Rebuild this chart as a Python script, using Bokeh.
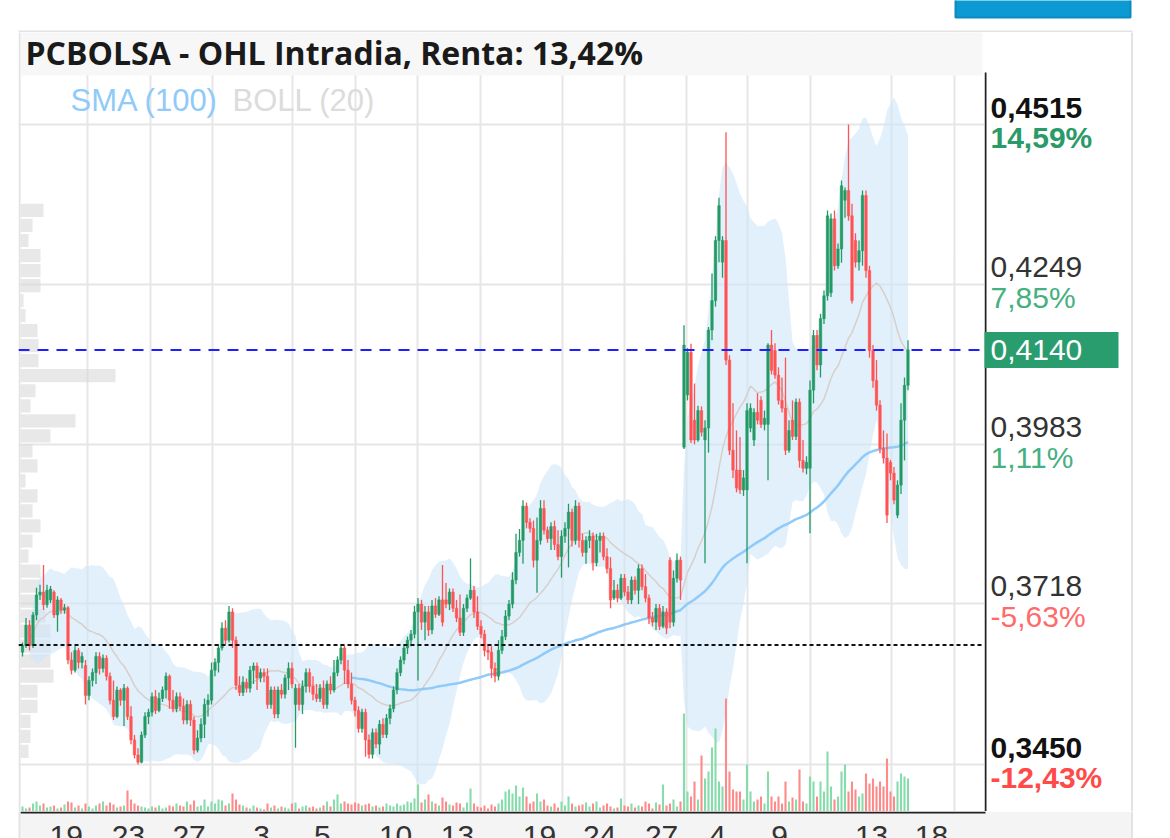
import numpy as np
import pandas as pd
from bokeh.plotting import figure
from bokeh.models import Range1d, FixedTicker, Span, ColumnDataSource
from bokeh.layouts import column, row
from bokeh.embed import file_html
from bokeh.resources import INLINE
from bokeh.core.properties import value

# ---------------- data (prices in 1/10000 EUR) ----------------
opens = [3637, 3648, 3682, 3648, 3699, 3732, 3737, 3716, 3724, 3737, 3699, 3724, 3707, 3711, 3624, 3607, 3640, 3620, 3615,
         3565, 3590, 3603, 3630, 3610, 3627, 3597, 3557, 3530, 3574, 3557, 3577, 3530, 3491, 3466, 3454, 3499, 3530,
         3537, 3563, 3540, 3560, 3574, 3597, 3557, 3543, 3563, 3547, 3524, 3550, 3524, 3474, 3494, 3517, 3550, 3557,
         3607, 3620, 3644, 3677, 3657, 3704, 3657, 3582, 3570, 3587, 3577, 3607, 3614, 3594, 3603, 3597, 3550, 3574, 3534, 3574, 3567, 3594, 3610,
         3550, 3577, 3550, 3580, 3603, 3580, 3567, 3560, 3577, 3550, 3584, 3574, 3603, 3624, 3644, 3607, 3584, 3557,
         3540, 3510, 3537, 3491, 3467, 3503, 3484, 3517, 3500, 3527, 3543, 3574, 3603, 3624, 3644, 3657, 3667, 3704,
         3717, 3687, 3704, 3674, 3714, 3700, 3724, 3724, 3717, 3737, 3710, 3694, 3670, 3710, 3727, 3740, 3704, 3680,
         3667, 3640, 3637, 3610, 3597, 3640, 3663, 3697, 3717, 3757, 3803, 3823, 3880, 3853, 3843, 3790, 3823, 3876, 3840, 3826, 3846, 3816, 3796,
         3830, 3843, 3870, 3823, 3880, 3823, 3803, 3823, 3830, 3786, 3823, 3830, 3796, 3776, 3727, 3740, 3727, 3760,
         3737, 3724, 3757, 3740, 3776, 3746, 3727, 3694, 3687, 3710, 3680, 3704, 3790, 3687, 3760, 3790,
         3978, 4065, 4136, 4023, 3990, 4039, 3990, 4010, 4173, 4222, 4322, 4286, 4322, 4123, 3973, 3940, 3940, 3907, 3907, 4010,
         3990, 4036, 4056, 4016, 4016, 4148, 4139, 4098, 4056, 4043, 3973, 4023, 3996, 4053, 3956, 3943, 3943, 4073, 4164, 4115,
         4192, 4230, 4235, 4358, 4280, 4308, 4389, 4405, 4363, 4322, 4286, 4305, 4397, 4272, 4139, 4089, 4048, 3976, 3960, 3953,
         3935, 3865, 3915, 4023, 4081]
highs = [3653, 3694, 3690, 3704, 3744, 3749, 3782, 3749, 3747, 3740, 3730, 3727, 3717, 3714, 3637, 3647, 3644, 3637, 3624,
         3597, 3610, 3637, 3637, 3633, 3632, 3603, 3590, 3580, 3577, 3584, 3580, 3547, 3499, 3477, 3505, 3537, 3543,
         3570, 3574, 3570, 3580, 3603, 3600, 3574, 3570, 3570, 3560, 3557, 3557, 3530, 3507, 3527, 3560, 3567, 3620,
         3627, 3650, 3687, 3690, 3714, 3710, 3663, 3597, 3597, 3593, 3614, 3620, 3620, 3610, 3610, 3610, 3580, 3580, 3580, 3584, 3600, 3620, 3620,
         3584, 3584, 3590, 3610, 3610, 3597, 3584, 3584, 3590, 3590, 3597, 3624, 3630, 3650, 3648, 3624, 3603, 3563,
         3547, 3543, 3543, 3500, 3510, 3510, 3524, 3527, 3534, 3550, 3580, 3610, 3630, 3650, 3663, 3674, 3714, 3727,
         3724, 3714, 3714, 3724, 3727, 3730, 3782, 3752, 3743, 3743, 3724, 3733, 3717, 3733, 3793, 3747, 3730, 3690,
         3674, 3650, 3647, 3620, 3657, 3674, 3707, 3724, 3770, 3834, 3842, 3890, 3886, 3860, 3856, 3861, 3890, 3890, 3846, 3853, 3856, 3840, 3840,
         3853, 3884, 3876, 3890, 3886, 3834, 3830, 3840, 3836, 3834, 3836, 3836, 3810, 3795, 3757, 3750, 3767, 3767,
         3747, 3763, 3763, 3783, 3783, 3767, 3733, 3704, 3717, 3717, 3714, 3710, 3795, 3773, 3801, 3796,
         4181, 4143, 4150, 4084, 4047, 4046, 4023, 4178, 4267, 4329, 4393, 4329, 4502, 4131, 4051, 4006, 3995, 3940, 4051, 4051,
         4043, 4068, 4063, 4039, 4151, 4173, 4151, 4111, 4094, 4127, 4023, 4056, 4059, 4059, 3990, 3963, 4089, 4173, 4173, 4200,
         4239, 4372, 4367, 4372, 4317, 4422, 4410, 4515, 4383, 4334, 4322, 4405, 4405, 4280, 4148, 4123, 4056, 4006, 4001, 3957,
         3945, 3923, 4051, 4094, 4156]
lows = [3630, 3644, 3640, 3644, 3690, 3724, 3707, 3711, 3719, 3694, 3671, 3701, 3701, 3617, 3600, 3603, 3610, 3610, 3550,
        3557, 3580, 3584, 3600, 3603, 3590, 3550, 3524, 3527, 3548, 3514, 3524, 3484, 3460, 3450, 3452, 3494, 3517,
        3530, 3534, 3537, 3554, 3560, 3543, 3537, 3537, 3540, 3517, 3517, 3514, 3467, 3470, 3487, 3494, 3530, 3550,
        3597, 3603, 3640, 3650, 3653, 3644, 3574, 3564, 3564, 3570, 3570, 3584, 3574, 3587, 3587, 3543, 3543, 3527, 3527, 3560, 3560, 3574, 3577,
        3478, 3540, 3534, 3570, 3570, 3557, 3554, 3554, 3543, 3543, 3567, 3570, 3597, 3617, 3584, 3577, 3550, 3530,
        3503, 3503, 3463, 3460, 3460, 3477, 3467, 3494, 3494, 3517, 3537, 3567, 3597, 3617, 3634, 3647, 3660, 3590,
        3674, 3657, 3664, 3667, 3694, 3697, 3680, 3710, 3707, 3704, 3687, 3664, 3664, 3704, 3724, 3694, 3674, 3660,
        3630, 3624, 3594, 3587, 3590, 3634, 3657, 3690, 3710, 3750, 3796, 3784, 3843, 3836, 3778, 3736, 3816, 3833, 3819, 3807, 3807, 3790, 3761,
        3819, 3778, 3813, 3816, 3811, 3796, 3784, 3810, 3773, 3780, 3803, 3790, 3768, 3710, 3724, 3720, 3724, 3730,
        3717, 3717, 3733, 3717, 3740, 3720, 3684, 3680, 3674, 3674, 3677, 3667, 3677, 3680, 3753, 3724,
        3975, 4056, 3985, 3983, 3987, 3996, 3785, 3969, 4156, 4212, 4286, 4260, 4115, 3965, 3927, 3903, 3900, 3897, 3785, 4003,
        3980, 4016, 4010, 4006, 3923, 4099, 4092, 4049, 4036, 3965, 3969, 3990, 3990, 3944, 3936, 3933, 3835, 4051, 4106, 4094,
        4183, 4222, 4228, 4272, 4275, 4285, 4360, 4355, 4217, 4277, 4272, 4280, 4260, 4127, 4077, 4039, 3968, 3951, 3852, 3923,
        3883, 3860, 3900, 3956, 4073]
closes = [3648, 3682, 3648, 3699, 3732, 3737, 3716, 3740, 3742, 3699, 3724, 3707, 3711, 3624, 3607, 3640, 3620, 3630, 3565,
          3590, 3603, 3630, 3610, 3627, 3597, 3557, 3530, 3574, 3557, 3577, 3530, 3491, 3466, 3454, 3499, 3530, 3537,
          3563, 3540, 3560, 3574, 3597, 3557, 3543, 3563, 3547, 3524, 3550, 3524, 3474, 3494, 3517, 3550, 3557, 3607,
          3620, 3644, 3677, 3657, 3704, 3657, 3582, 3570, 3587, 3577, 3607, 3614, 3594, 3603, 3597, 3550, 3574, 3534, 3574, 3567, 3594, 3610, 3584,
          3577, 3550, 3580, 3603, 3580, 3567, 3560, 3577, 3550, 3584, 3574, 3603, 3624, 3644, 3607, 3584, 3557, 3540,
          3510, 3537, 3491, 3467, 3503, 3484, 3517, 3500, 3527, 3543, 3574, 3603, 3624, 3644, 3657, 3667, 3704, 3717,
          3687, 3704, 3674, 3714, 3700, 3724, 3687, 3717, 3737, 3710, 3694, 3670, 3710, 3727, 3740, 3704, 3680, 3667,
          3640, 3637, 3610, 3597, 3640, 3663, 3697, 3717, 3757, 3803, 3823, 3880, 3853, 3843, 3790, 3823, 3876, 3840, 3826, 3846, 3816, 3796, 3830,
          3843, 3870, 3823, 3880, 3823, 3803, 3823, 3830, 3786, 3823, 3830, 3796, 3776, 3724, 3740, 3727, 3760, 3737,
          3724, 3757, 3740, 3776, 3746, 3727, 3694, 3687, 3710, 3680, 3704, 3677, 3687, 3760, 3790, 3757,
          4148, 4136, 3990, 3990, 4039, 4003, 4010, 4173, 4222, 4322, 4380, 4322, 4123, 3973, 3940, 3910, 3907, 3927, 4039, 4043,
          4036, 4023, 4016, 4026, 4148, 4106, 4098, 4056, 4043, 3973, 4006, 3996, 4053, 3956, 3943, 3953, 4073, 4164, 4115, 4192,
          4230, 4363, 4358, 4280, 4308, 4413, 4405, 4363, 4222, 4286, 4305, 4397, 4272, 4139, 4089, 4048, 3976, 3960, 3865, 3935,
          3890, 3915, 4023, 4081, 4140]
# volume per bar, thousands of shares
volumes = [50, 30, 40, 80, 100, 60, 80, 40, 50, 60, 30, 40, 70, 100, 90, 40, 60, 30, 80, 50,
           30, 60, 80, 100, 60, 90, 70, 40, 50, 60, 210, 120, 80, 60, 50, 40, 30, 50, 40, 60,
           30, 40, 60, 50, 80, 60, 50, 100, 70, 110, 50, 60, 120, 50, 100, 80, 120, 110, 60, 80,
           180, 120, 70, 60, 40, 30, 60, 40, 30, 20, 80, 40, 60, 30, 50, 40, 30, 80, 90, 30,
           50, 60, 40, 50, 30, 40, 60, 100, 50, 120, 170, 80, 100, 80, 70, 90, 80, 60, 70, 80,
           50, 60, 40, 50, 80, 60, 50, 80, 60, 70, 100, 90, 130, 270, 90, 120, 170, 100, 80, 60,
           140, 100, 70, 60, 90, 80, 40, 90, 230, 80, 50, 40, 60, 30, 70, 50, 80, 120, 200, 220,
           180, 260, 150, 240, 150, 80, 100, 180, 100, 120, 60, 50, 80, 40, 100, 60, 150, 80, 50, 60,
           70, 90, 50, 80, 100, 40, 60, 80, 50, 30, 40, 130, 60, 50, 80, 40, 60, 50, 100, 80,
           30, 90, 70, 270, 60, 80, 120, 50, 100, 980, 200, 150, 300, 120, 560, 330, 400, 640, 830, 300,
           250, 1130, 400, 220, 200, 200, 120, 470, 200, 100, 120, 150, 80, 400, 150, 100, 150, 80, 300, 100,
           140, 120, 420, 100, 80, 350, 300, 150, 300, 200, 600, 250, 120, 150, 400, 470, 200, 300, 220, 150,
           180, 380, 280, 330, 250, 300, 250, 530, 200, 150, 300, 380, 350, 330]

# volume-by-price profile (left side)
profile_levels = [0.4372, 0.4347, 0.4322, 0.4297, 0.4272, 0.4247, 0.4222, 0.4197, 0.4172, 0.4147,
                  0.4122, 0.4097, 0.4072, 0.4047, 0.4022, 0.3997, 0.3972, 0.3947, 0.3922, 0.3897,
                  0.3872, 0.3847, 0.3822, 0.3797, 0.3772, 0.3747, 0.3722, 0.3697, 0.3672, 0.3647,
                  0.3622, 0.3597, 0.3572, 0.3547, 0.3522, 0.3497, 0.3472]
profile_volume = [2300, 1200, 800, 2000, 2000, 2000, 300, 500, 1700, 1800,
                  1800, 9500, 1500, 1000, 5500, 3000, 1200, 1700, 500, 1700,
                  1200, 2000, 1200, 800, 2000, 2000, 1500, 2500, 3000, 3000,
                  3000, 3300, 1700, 1700, 1000, 1000, 800]

TITLE = "PCBOLSA - OHL Intradia, Renta: 13,42%"
price_ticks = [0.4515, 0.4249, 0.3983, 0.3718, 0.3450]
price_tick_labels = ["0,4515", "0,4249", "0,3983", "0,3718", "0,3450"]
pct_tick_labels = ["14,59%", "7,85%", "1,11%", "-5,63%", "-12,43%"]
day_labels = ["19", "23", "27", "3", "5", "10", "13", "19", "24", "27", "4", "9", "13", "18"]
day_label_pos = [12.5, 30.3, 47.6, 68.3, 85.7, 106.6, 124.3, 147.7, 164.9, 182.6, 198.6, 216.3, 242.6, 259.7]
day_grid_pos = [18.6, 36.6, 54.3, 77.1, 95.1, 112.9, 130.9, 154.3, 172.0, 189.7, 207.1, 225.1, 248.3, 266.3]
ref_price = 0.3649

# ---------------- derived ----------------
o = np.array(opens) / 1e4
h = np.array(highs) / 1e4
l = np.array(lows) / 1e4
c = np.array(closes) / 1e4
vol = np.array(volumes, dtype=float)
n = len(c)
idx = np.arange(n)
last = c[-1]

GREEN, RED = "#239a65", "#ff5252"
VGREEN, VRED = "#86dcab", "#ff8a8a"
inc = c >= o
src = ColumnDataSource(dict(
    x=idx, h=h, l=l, top=np.maximum(o, c), bot=np.minimum(o, c),
    col=np.where(inc, GREEN, RED), vcol=np.where(inc, VGREEN, VRED), vol=vol))

cs = pd.Series(c)
mid = cs.rolling(20, min_periods=3).mean()
sd = cs.rolling(20, min_periods=3).std(ddof=0)
upper = (mid + 2 * sd).values
lower = (mid - 2 * sd).values
midv = mid.values
sma100 = cs.rolling(100, min_periods=95).mean().values
ok = ~np.isnan(midv)

# ---------------- screen geometry helpers (page pixels) ----------------
CANDLE_PX, X0_PX = 3.5, 22.0
Y_REF_PX, Y_REF_VAL, PX_PER_UNIT = 124.0, 0.4515, 6010.0
def sx(px):
    return (px - X0_PX) / CANDLE_PX
def sy(py):
    return Y_REF_VAL - (py - Y_REF_PX) / PX_PER_UNIT

SANS = value("Liberation Sans")
BORDER = "#e3e3e3"
yr = Range1d(sy(811), sy(32))

# ---------------- main chart (page x 0..984, y 32..811) ----------------
p = figure(width=984, height=779, x_range=Range1d(sx(18), sx(984)), y_range=yr,
           output_backend="svg", toolbar_location=None,
           x_axis_location=None, y_axis_location=None,
           min_border_left=18, min_border_right=0, min_border_top=0, min_border_bottom=0)
p.outline_line_color = None
p.background_fill_color = "white"
p.border_fill_color = "white"
p.xgrid.ticker = FixedTicker(ticks=day_grid_pos)
p.ygrid.ticker = FixedTicker(ticks=price_ticks)
p.grid.grid_line_color = "#e6e6e6"
p.grid.grid_line_width = 2
p.extra_y_ranges = {"vol": Range1d(0, 7790)}
p.extra_x_ranges = {"prof": Range1d(-200, 96400)}

p.hbar(y=profile_levels, left=0, right=profile_volume, height=0.0022, x_range_name="prof",
       fill_color="#d9d9d9", fill_alpha=0.6, line_color=None)
p.varea(x=idx[ok], y1=lower[ok], y2=upper[ok], fill_color="#cfe6fa", fill_alpha=0.6)
p.line(idx, midv, line_color="#d8cfca", line_width=1.5)
p.line(idx, sma100, line_color="#90caf9", line_width=2.5)
p.vbar(x="x", top="vol", bottom=0, width=0.6, y_range_name="vol", source=src,
       fill_color="vcol", line_color=None)
p.segment(x0="x", y0="h", x1="x", y1="l", line_color="col", line_width=1.3, source=src)
p.vbar(x="x", top="top", bottom="bot", width=0.72, fill_color="col", line_color="col",
       line_width=0.5, source=src)

p.add_layout(Span(location=ref_price, dimension="width", line_color="#111111",
                  line_dash="4 3", line_width=2))
p.add_layout(Span(location=last, dimension="width", line_color="#1f1fff",
                  line_dash="11 8", line_width=2))

# title band, legend and left frame border
p.quad(left=sx(20), right=sx(982), bottom=sy(75), top=sy(20), fill_color="#f7f7f7", line_color=None)
p.segment(x0=[sx(19)], y0=[sy(20)], x1=[sx(19)], y1=[sy(815)], line_color=BORDER, line_width=2)
p.text(x=[sx(25)], y=[sy(52)], text=[TITLE], text_font=value("Open Sans"), text_font_style="bold",
       text_font_size="32px", text_color="#1a1a1a", text_baseline="middle")
p.text(x=[sx(70)], y=[sy(100)], text=["SMA (100)"], text_font=SANS, text_font_size="31px",
       text_color="#90caf9", text_baseline="middle")
p.text(x=[sx(232)], y=[sy(100)], text=["BOLL (20)"], text_font=SANS, text_font_size="31px",
       text_color="#dcdcdc", text_baseline="middle")

# ---------------- right price scale (page x 984..1170) ----------------
r = figure(width=186, height=779, x_range=Range1d(0, 186), y_range=yr,
           output_backend="svg", toolbar_location=None,
           x_axis_location=None, y_axis_location=None, min_border=0)
r.outline_line_color = None
r.grid.visible = False
r.background_fill_color = "white"
r.border_fill_color = "white"
r.segment(x0=[1], y0=[sy(72)], x1=[1], y1=[sy(815)], line_color="#222222", line_width=2)
r.segment(x0=[147.5], y0=[sy(20)], x1=[147.5], y1=[sy(815)], line_color=BORDER, line_width=2)
pct_col = ["#2a9a68", "#45b080", "#45b080", "#ff6b6b", "#ff4a4a"]
for i, (tv, pl, ql) in enumerate(zip(price_ticks, price_tick_labels, pct_tick_labels)):
    bold = i in (0, len(price_ticks) - 1)
    r.text(x=[6], y=[tv], text=[pl], y_offset=-17, text_font=SANS, text_font_size="30px",
           text_font_style="bold" if bold else "normal",
           text_color="#111111" if bold else "#333333", text_baseline="middle")
    r.text(x=[6], y=[tv], text=[ql], y_offset=13, text_font=SANS, text_font_size="30px",
           text_font_style="bold" if bold else "normal",
           text_color=pct_col[i], text_baseline="middle")
r.rect(x=[66], y=[last], width=136, height=36, height_units="screen",
       fill_color="#2a9d6f", line_color=None)
r.text(x=[6], y=[last], text=[f"{last:.4f}".replace(".", ",")], text_font=SANS,
       text_font_size="30px", text_color="white", text_baseline="middle")

# ---------------- top strip (page y 0..32) ----------------
t = figure(width=1170, height=32, x_range=Range1d(0, 1170), y_range=Range1d(32, 0),
           output_backend="svg", toolbar_location=None,
           x_axis_location=None, y_axis_location=None, min_border=0)
t.outline_line_color = None
t.grid.visible = False
t.quad(left=[955], right=[1130], top=[-8], bottom=[17], fill_color="#0b9ad2",
       line_color="#0a8bbf", line_width=2)
t.segment(x0=[18], y0=[31], x1=[1132], y1=[31], line_color=BORDER, line_width=2)

# ---------------- bottom date strip (page y 811..838) ----------------
b = figure(width=1170, height=27, x_range=Range1d(sx(0), sx(1170)), y_range=Range1d(27, 0),
           output_backend="svg", toolbar_location=None,
           x_axis_location=None, y_axis_location=None, min_border=0)
b.outline_line_color = None
b.grid.visible = False
b.quad(left=[sx(20)], right=[sx(1131)], top=[0], bottom=[27], fill_color="#f4f4f4", line_color=None)
b.segment(x0=[sx(20)], y0=[1], x1=[sx(985)], y1=[1], line_color="#222222", line_width=2)
b.segment(x0=[sx(19)], y0=[0], x1=[sx(19)], y1=[27], line_color=BORDER, line_width=2)
b.segment(x0=[sx(1131.5)], y0=[0], x1=[sx(1131.5)], y1=[27], line_color=BORDER, line_width=2)
b.text(x=day_label_pos, y=[14] * len(day_labels), text=day_labels, text_font=SANS,
       text_font_size="30px", text_color="#333333", text_align="center", text_baseline="top")

layout = column(t, row(p, r), b)
open("out.html", "w").write(file_html(layout, INLINE))
